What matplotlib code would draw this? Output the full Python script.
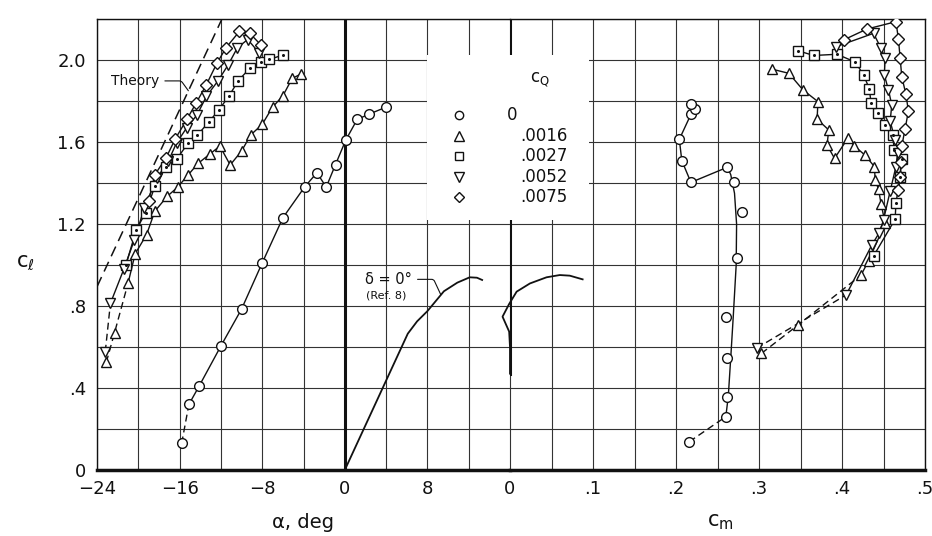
import numpy as np
import matplotlib.pyplot as plt

plt.rcParams['font.family'] = ['DejaVu Sans']

# 图例 c_Q
cq_labels = ['0', '.0016', '.0027', '.0052', '.0075']
cq_markers = ['o', '^', 's', 'v', 'D']

# c_l - alpha 数据
alpha_q0 = [-15.8, -15.1, -14.1, -12.0, -10.0, -8.0, -6.0, -3.9, -2.7, -1.8, -0.9, 0.1, 1.2, 2.3, 4.0]
cl_q0_a = [0.13, 0.32, 0.41, 0.605, 0.785, 1.01, 1.23, 1.38, 1.45, 1.38, 1.49, 1.61, 1.71, 1.735, 1.77]

alpha_q1 = [-23.1, -22.3, -21.0, -20.3, -19.2, -18.4, -17.2, -16.2, -15.2, -14.2,
            -13.1, -12.1, -11.1, -10.0, -9.1, -8.0, -7.0, -6.0, -5.1, -4.2]
cl_q1_a = [0.525, 0.67, 0.91, 1.055, 1.148, 1.262, 1.335, 1.379, 1.438, 1.496,
           1.54, 1.58, 1.488, 1.556, 1.635, 1.686, 1.77, 1.825, 1.91, 1.933]

alpha_q2 = [-21.2, -20.2, -19.3, -18.4, -17.3, -16.3, -15.2, -14.3, -13.2, -12.2,
            -11.2, -10.3, -9.2, -8.15, -7.3, -6.0]
cl_q2_a = [1.0, 1.171, 1.255, 1.383, 1.48, 1.515, 1.593, 1.632, 1.696, 1.756,
           1.826, 1.9, 1.96, 1.992, 2.003, 2.024]

alpha_q3 = [-23.2, -22.7, -21.4, -20.4, -19.4, -18.2, -17.1, -16.3, -15.3, -14.3,
            -13.4, -12.3, -11.3, -10.4, -9.4, -8.3]
cl_q3_a = [0.577, 0.813, 0.98, 1.12, 1.28, 1.424, 1.506, 1.595, 1.67, 1.733,
           1.823, 1.897, 1.976, 2.06, 2.10, 2.035]

alpha_q4 = [-19.0, -18.4, -17.3, -16.4, -15.3, -14.4, -13.4, -12.4, -11.5, -10.2, -9.2, -8.1]
cl_q4_a = [1.314, 1.44, 1.524, 1.617, 1.71, 1.79, 1.88, 1.983, 2.06, 2.14, 2.13, 2.072]

# c_l - c_m 数据
cm_q0 = [0.216, 0.260, 0.262, 0.261, 0.260, 0.274, 0.280, 0.2695, 0.262, 0.218, 0.207, 0.204, 0.218, 0.223, 0.218]
cl_q0_m = [0.138, 0.26, 0.357, 0.545, 0.745, 1.033, 1.257, 1.407, 1.477, 1.403, 1.509, 1.613, 1.735, 1.761, 1.784]
# 圆点的光顺曲线
cm_q0_fair = [0.216, 0.260, 0.263, 0.266, 0.269, 0.2725, 0.273, 0.2705, 0.266, 0.262, 0.218, 0.207, 0.204, 0.218, 0.222]
cl_q0_fair = [0.138, 0.26, 0.36, 0.55, 0.75, 1.0, 1.2, 1.35, 1.44, 1.477, 1.403, 1.509, 1.613, 1.735, 1.755]

cm_q1 = [0.303, 0.347, 0.423, 0.432, 0.452, 0.447, 0.444, 0.440, 0.439, 0.428,
         0.415, 0.407, 0.391, 0.382, 0.384, 0.370, 0.371, 0.353, 0.336, 0.316]
cl_q1_m = [0.569, 0.707, 0.951, 1.021, 1.203, 1.30, 1.369, 1.415, 1.48, 1.535,
           1.58, 1.618, 1.52, 1.585, 1.659, 1.711, 1.797, 1.854, 1.935, 1.955]

cm_q2 = [0.438, 0.464, 0.465, 0.470, 0.472, 0.463, 0.461, 0.452, 0.443, 0.435,
         0.433, 0.426, 0.416, 0.394, 0.366, 0.347]
cl_q2_m = [1.044, 1.223, 1.301, 1.43, 1.517, 1.561, 1.634, 1.683, 1.74, 1.789,
           1.859, 1.927, 1.99, 2.028, 2.022, 2.045]

cm_q3 = [0.297, 0.405, 0.436, 0.445, 0.450, 0.458, 0.465, 0.467, 0.464, 0.458,
         0.460, 0.456, 0.451, 0.452, 0.447, 0.438, 0.393]
cl_q3_m = [0.594, 0.854, 1.098, 1.158, 1.22, 1.36, 1.48, 1.545, 1.61, 1.702,
           1.78, 1.854, 1.927, 2.011, 2.057, 2.13, 2.065]

cm_q4 = [0.468, 0.470, 0.471, 0.472, 0.476, 0.480, 0.477, 0.472, 0.470, 0.468, 0.465, 0.430, 0.402]
cl_q4_m = [1.366, 1.43, 1.504, 1.58, 1.663, 1.751, 1.833, 1.919, 2.011, 2.102, 2.187, 2.151, 2.098]

# 理论线和参考曲线 (delta = 0, Ref. 8)
theory_alpha = [-24.0, -11.9]
theory_cl = [0.894, 2.2]
ref_alpha = [0, 6.1, 7.0, 8.0, 9.6, 10.9, 12.1, 12.8, 13.3]
ref_cl_a = [0, 0.665, 0.725, 0.775, 0.872, 0.914, 0.94, 0.938, 0.927]
ref_cm = [0.0, 0.0, -0.001, -0.009, -0.001, 0.008, 0.024, 0.044, 0.060, 0.072, 0.0875]
ref_cl_m = [0.47, 0.60, 0.675, 0.748, 0.81, 0.87, 0.91, 0.94, 0.951, 0.948, 0.93]

# 刻度标签
alpha_ticks = np.arange(-24, 17, 4)
alpha_labels = ['\u221224', '', '\u221216', '', '\u22128', '', '0', '', '8', '', '']
cm_ticks = np.arange(0, 0.501, 0.05)
cm_labels = ['0', '', '.1', '', '.2', '', '.3', '', '.4', '', '.5']
cl_ticks = np.arange(0, 2.21, 0.2)
cl_labels = ['0', '', '.4', '', '.8', '', '1.2', '', '1.6', '', '2.0', '']

INK = '#111111'
MS = {'o': 7, '^': 7.5, 's': 6.5, 'v': 7.5, 'D': 6.5}


def draw_series(ax, xs, ys, marker, n_dash=0, line_x=None, line_y=None):
    lx = np.asarray(xs if line_x is None else line_x)
    ly = np.asarray(ys if line_y is None else line_y)
    if n_dash > 0:
        ax.plot(lx[:n_dash + 1], ly[:n_dash + 1], color=INK, lw=1, dashes=(5, 3))
    ax.plot(lx[n_dash:], ly[n_dash:], color=INK, lw=1)
    ax.plot(xs, ys, ls='none', marker=marker, ms=MS[marker], mfc='white',
            mec=INK, mew=1, zorder=4)
    if marker == 's':
        ax.plot(xs, ys, ls='none', marker='o', ms=1.2, color=INK, zorder=5)


fig = plt.figure(figsize=(9.32, 5.36), dpi=100)
fx0, fx1, fx2 = 97 / 932, 510 / 932, 925 / 932
fy0, fy1 = 66 / 536, 517 / 536
ax1 = fig.add_axes([fx0, fy0, fx1 - fx0, fy1 - fy0])
ax2 = fig.add_axes([fx1, fy0, fx2 - fx1, fy1 - fy0])

for ax in (ax1, ax2):
    ax.set_ylim(0, 2.2)
    ax.set_yticks(cl_ticks)
    ax.grid(True, color='#333333', lw=0.8)
    ax.set_axisbelow(True)
    ax.tick_params(length=0, labelsize=13, colors=INK)
    for s in ax.spines.values():
        s.set_linewidth(1)
        s.set_color(INK)
    ax.spines['bottom'].set_linewidth(2.5)

ax1.set_xlim(-24, 16)
ax1.set_xticks(alpha_ticks)
ax1.set_xticklabels(alpha_labels)
ax1.set_yticklabels(cl_labels)
ax1.tick_params(axis='x', pad=7)
ax1.tick_params(axis='y', pad=8)
ax1.spines['right'].set_visible(False)

ax2.set_xlim(0, 0.5)
ax2.set_xticks(cm_ticks)
ax2.set_xticklabels(cm_labels)
ax2.tick_params(axis='x', pad=7)
ax2.tick_params(axis='y', labelleft=False)
ax2.spines['left'].set_visible(False)

# 坐标零线
ax1.axvline(0, color=INK, lw=2.2, zorder=2)
ax2.axvline(0, ymin=0.47 / 2.2, color=INK, lw=2.2, zorder=2)

# c_l - alpha
draw_series(ax1, alpha_q0, cl_q0_a, 'o', n_dash=1)
draw_series(ax1, alpha_q1, cl_q1_a, '^', n_dash=2)
draw_series(ax1, alpha_q2, cl_q2_a, 's')
draw_series(ax1, alpha_q3, cl_q3_a, 'v', n_dash=1)
draw_series(ax1, alpha_q4, cl_q4_a, 'D')
ax1.plot(theory_alpha, theory_cl, color=INK, lw=1.1, dashes=(7, 4))
ax1.plot(ref_alpha, ref_cl_a, color=INK, lw=1.3)

# c_l - c_m
draw_series(ax2, cm_q0, cl_q0_m, 'o', n_dash=1, line_x=cm_q0_fair, line_y=cl_q0_fair)
draw_series(ax2, cm_q1, cl_q1_m, '^', n_dash=2)
draw_series(ax2, cm_q2, cl_q2_m, 's')
draw_series(ax2, cm_q3, cl_q3_m, 'v', n_dash=1)
draw_series(ax2, cm_q4, cl_q4_m, 'D')
ax2.plot(ref_cm, ref_cl_m, color=INK, lw=1.3, clip_on=False)

# 注释
ax1.annotate('Theory', xy=(-15.15, 1.85), xytext=(-20.3, 1.898), fontsize=10,
             ha='center', va='center', color=INK,
             arrowprops=dict(arrowstyle='-', color=INK, lw=0.8,
                             connectionstyle='angle,angleA=0,angleB=-54,rad=2',
                             shrinkA=2, shrinkB=0))
ax1.annotate('\u03b4 = 0\u00b0', xy=(9.3, 0.855), xytext=(4.24, 0.93), fontsize=10.5,
             ha='center', va='center', color=INK,
             arrowprops=dict(arrowstyle='-', color=INK, lw=0.8,
                             connectionstyle='angle,angleA=0,angleB=-65,rad=2',
                             shrinkA=2, shrinkB=0))
ax1.text(4.05, 0.852, '(Ref. 8)', fontsize=8, ha='center', va='center', color=INK)

# 轴标签
fig.text(25 / 932, 1 - 263 / 536, r'c$_\ell$', fontsize=15, ha='center', va='center', color=INK)
fig.text(303 / 932, 1 - 522 / 536, '\u03b1, deg', fontsize=14, ha='center', va='center', color=INK)
fig.text(720 / 932, 1 - 522 / 536, r'c$_\mathrm{m}$', fontsize=15, ha='center', va='center', color=INK)

# 图例框 (白底, 无边框)
lax = fig.add_axes([427 / 932, 1 - 220 / 536, 162 / 932, 165 / 536])
lax.set_xlim(0, 1)
lax.set_ylim(0, 1)
lax.set_xticks([])
lax.set_yticks([])
for s in lax.spines.values():
    s.set_visible(False)
lax.text(0.70, 0.85, r'c$_\mathrm{Q}$', fontsize=12, ha='center', va='center', color=INK)
rows = [0.636, 0.509, 0.388, 0.261, 0.139]
for yy, m, lab in zip(rows, cq_markers, cq_labels):
    lax.plot(0.198, yy, marker=m, ms=MS[m] - 1, mfc='white', mec=INK, mew=1)
    if lab == '0':
        lax.text(0.525, yy, lab, fontsize=12, ha='center', va='center', color=INK)
    else:
        lax.text(0.87, yy, lab, fontsize=12, ha='right', va='center', color=INK)

plt.savefig('out.png', dpi=100)
plt.close()
